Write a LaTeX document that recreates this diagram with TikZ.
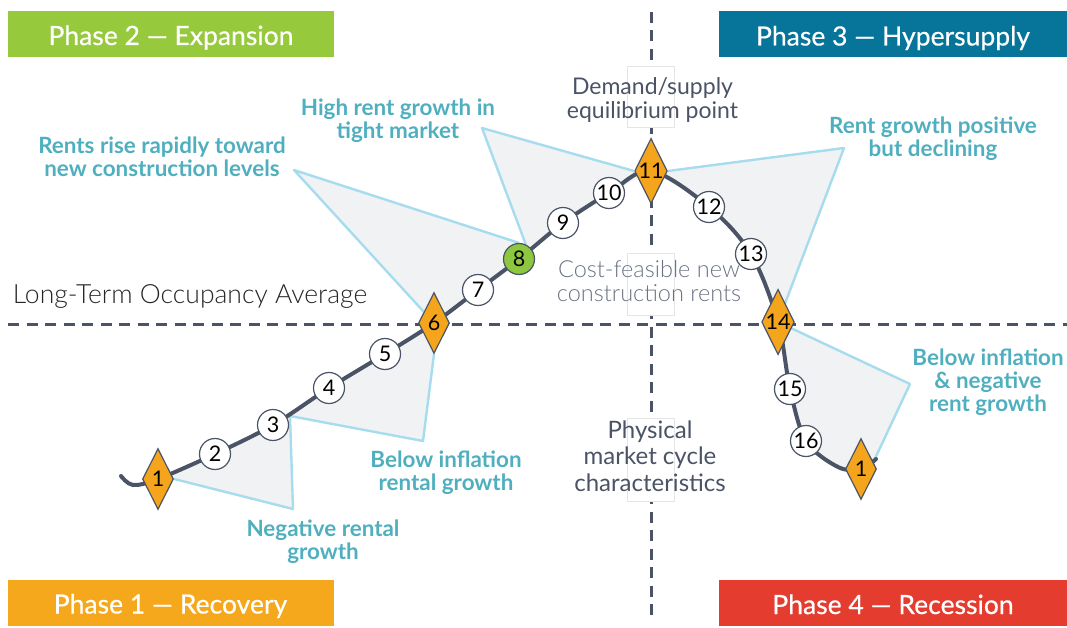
\documentclass[tikz,border=0pt]{standalone}
\usepackage{fontspec}
\setmainfont{Lato}
\newfontfamily\latolight{Lato Light}
\newfontfamily\latobanner[FakeBold=0.5]{Lato}
\usetikzlibrary{shapes.geometric,backgrounds}
\definecolor{phgreen}{HTML}{97C93D}
\definecolor{phteal}{HTML}{07759A}
\definecolor{phorange}{HTML}{F6A81D}
\definecolor{phred}{HTML}{E43D30}
\definecolor{slate}{HTML}{4A5466}
\definecolor{notegray}{HTML}{6B7383}
\definecolor{tealtext}{HTML}{4FAFBF}
\definecolor{callblue}{HTML}{A6DCEE}
\definecolor{callfill}{HTML}{F1F2F4}
\definecolor{diaorange}{HTML}{F5A51C}
\definecolor{ptgreen}{HTML}{8DC63F}

\begin{document}
\begin{tikzpicture}[
  x=1pt, y=-1pt,
  phase/.style={minimum width=326pt, minimum height=46pt, inner sep=0pt, text height=22pt, text depth=0pt, text=white, font=\latobanner\fontsize{26.5}{30}\selectfont},
  pt/.style={circle, draw=slate, line width=1.2pt, fill=white, minimum size=31pt, inner sep=0pt, font=\fontsize{21.5}{21.5}\selectfont},
  dia/.style={diamond, aspect=0.5, draw=slate, line width=1.2pt, fill=diaorange, minimum width=31pt, minimum height=61pt, inner sep=0pt, font=\fontsize{21.5}{21.5}\selectfont},
  note/.style={align=center, text=tealtext, font=\bfseries\fontsize{22.4}{23}\selectfont},
  info/.style={align=center, text=slate, font=\fontsize{22}{25}\selectfont},
  axis/.style={slate, line width=3pt, dash pattern=on 11pt off 7.5pt},
  gapbox/.style={fill=white, draw=black!10, line width=0.6pt},
  callout/.style={fill=callfill},
  calledge/.style={callblue, line width=2.4pt, line join=round},
  cycleline/.style={slate, line width=4pt, line cap=round}
]
\useasboundingbox (0,0) rectangle (1067,628);

% Phase banners
\node[phase, fill=phgreen] (ph2) at (171,34) {Phase 2 — Expansion};
\node[phase, fill=phteal, minimum width=348pt] (ph3) at (893,34.5) {Phase 3 — Hypersupply};
\node[phase, fill=phorange] (ph1) at (170.5,602.5) {Phase 1 — Recovery};
\node[phase, fill=phred, minimum width=348pt] (ph4) at (893,603) {Phase 4 — Recession};

% Axis labels
\node[info, text=black!85, font=\latolight\fontsize{26.5}{28}\selectfont] (occ) at (190,296) {Long-Term Occupancy Average};
\node[info, font=\fontsize{23}{24}\selectfont] (equi) at (652.5,100) {Demand/supply\\equilibrium point};
\node[info, text=notegray, font=\latolight\fontsize{23.5}{23.5}\selectfont] (cost) at (649,281) {Cost-feasible new\\construction rents};
\node[info, font=\fontsize{24}{26.5}\selectfont] (phys) at (650,456) {Physical\\market cycle\\characteristics};

% Cycle points
\node[dia] (d1) at (158,479) {1};
\node[pt] (c2) at (215,454) {2};
\node[pt] (c3) at (273,425) {3};
\node[pt] (c4) at (329,388) {4};
\node[pt] (c5) at (385,354) {5};
\node[dia] (d6) at (434,323) {6};
\node[pt] (c7) at (478,290) {7};
\node[pt, fill=ptgreen] (c8) at (519,259) {8};
\node[pt] (c9) at (563,223) {9};
\node[pt] (c10) at (609,193) {10};
\node[dia] (d11) at (651,171) {11};
\node[pt] (c12) at (709,207) {12};
\node[pt] (c13) at (751,254) {13};
\node[dia] (d14) at (778,322) {14};
\node[pt] (c15) at (790,389) {15};
\node[pt] (c16) at (806,441) {16};
\node[dia] (d1b) at (861,469) {1};

% Callout texts
\node[note] (negr) at (323,541.5) {Negative rental\\growth};
\node[note] (belr) at (446,472.5) {Below inflation\\rental growth};
\node[note] (rise) at (162,157) {Rents rise rapidly toward\\new construction levels};
\node[note] (high) at (398,121) {High rent growth in\\tight market};
\node[note] (decl) at (933,138.5) {Rent growth positive\\but declining};
\node[note] (belneg) at (988,382) {Below inflation\\\& negative\\rent growth};

% Callout tips and curve ends
\coordinate (tipA) at (293,509);
\coordinate (k3) at (290,416);
\coordinate (tipB) at (423,441);
\coordinate (tipC) at (294,170);
\coordinate (tipD) at (482,128);
\coordinate (tipE) at (844,148);
\coordinate (tipF) at (910,384);
\coordinate (kF) at (872,465);
\coordinate (s0) at (121,476);
\coordinate (s1) at (133,485);
\coordinate (s2) at (838,467);
\coordinate (s3) at (876,459);

\begin{scope}[on background layer]
% dashed axes and gaps behind labels
\draw[axis] (8,324) -- (1067,324);
\draw[axis] (651,12) -- (651,619);
\draw[gapbox] (627,66) rectangle (674,127);
\draw[gapbox] (627,253) rectangle (674,315);
\draw[gapbox] (627,418) rectangle (674,501);

% callouts
\fill[callout] (d1.east) -- (tipA) -- (k3) -- (c3.center) -- (c2.center) -- (d1.center) -- cycle;
\fill[callout] (k3) -- (tipB) -- (d6.south) -- (d6.center) -- (c5.center) -- (c4.center) -- (c3.center) -- cycle;
\fill[callout] (tipC) -- (c8.north) -- (c8.center) -- (c7.center) -- (d6.center) -- cycle;
\fill[callout] (tipD) -- (d11.west) -- (d11.center) -- (c10.center) -- (c9.center) -- (c8.center) -- (c8.65) -- cycle;
\fill[callout] plot[smooth, tension=0.55] coordinates {(d11) (c12) (c13) (d14)} -- (tipE) -- (d11.east) -- cycle;
\fill[callout] plot[smooth, tension=0.55] coordinates {(d14) (c15) (c16) (s2) (d1b)} -- (kF) -- (tipF) -- cycle;
\draw[calledge] (d1.east) -- (tipA) -- (k3);
\draw[calledge] (k3) -- (tipB) -- (d6.south);
\draw[calledge] (c8.north) -- (tipC) -- (d6.center);
\draw[calledge] (c8.65) -- (tipD) -- (d11.west);
\draw[calledge] (d11.east) -- (tipE) -- (d14.center);
\draw[calledge] (d14.center) -- (tipF) -- (kF);

% market cycle curve
\draw[cycleline] plot[smooth, tension=0.55] coordinates {(s0) (s1) (d1) (c2) (c3) (c4) (c5) (d6) (c7) (c8) (c9) (c10) (d11) (c12) (c13) (d14) (c15) (c16) (s2) (d1b) (s3)};
\end{scope}
\end{tikzpicture}
\end{document}
